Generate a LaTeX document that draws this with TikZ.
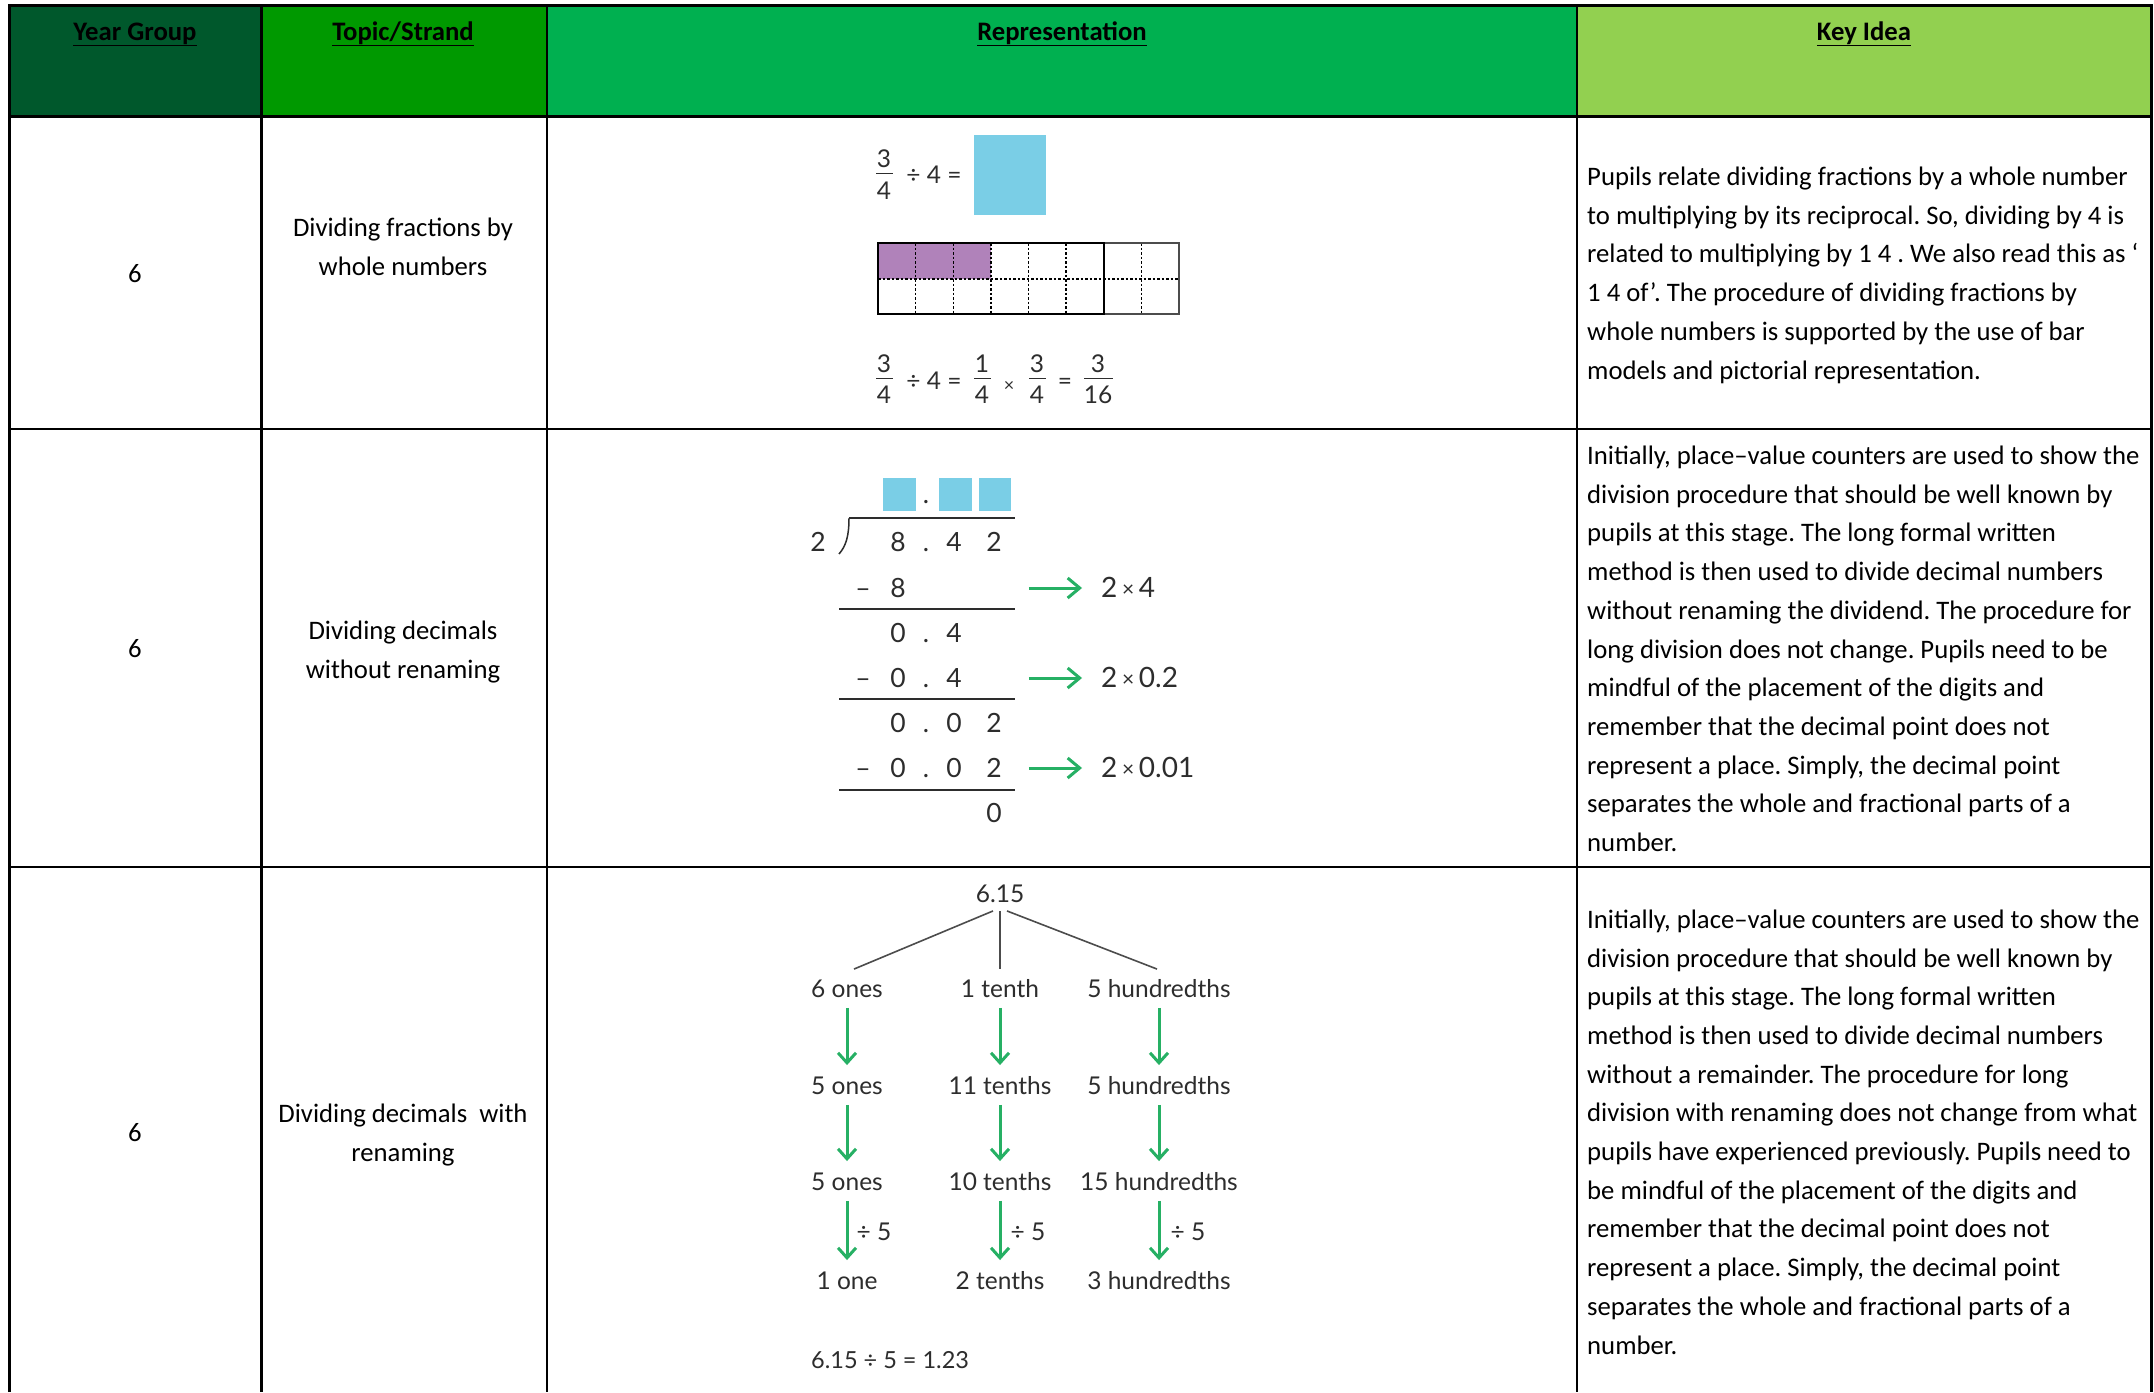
\documentclass[tikz,border=0pt]{standalone}
\usepackage{fontspec}
\setmainfont{Carlito}
\newfontfamily\repfont{Lato}
\usetikzlibrary{arrows.meta}
\definecolor{hdA}{RGB}{0,88,44}
\definecolor{hdB}{RGB}{0,153,0}
\definecolor{hdC}{RGB}{0,176,80}
\definecolor{hdD}{RGB}{146,208,80}
\definecolor{cblue}{RGB}{122,206,230}
\definecolor{cpurple}{RGB}{176,130,186}
\definecolor{cgreen}{RGB}{38,176,100}
\definecolor{cink}{RGB}{45,45,45}
\newcommand\bodyfnt{\fontsize{26.7}{38.7}\selectfont}
\newcommand\headfnt{\fontsize{26.7}{30}\selectfont\bfseries}
\frenchspacing
\begin{document}
\begin{tikzpicture}[x=1pt,y=-1pt,
  body/.style={font=\bodyfnt, inner sep=0pt, align=left, anchor=base west},
  topic/.style={font=\bodyfnt, inner sep=0pt, align=center, anchor=base},
  head/.style={font=\headfnt, inner sep=0pt, anchor=base},
  rp/.style={font=\repfont\fontsize{24.5}{24.5}\selectfont, text=cink, inner sep=0pt, text height=17.5pt, text depth=0pt, anchor=center},
  rpb/.style={font=\repfont\fontsize{26.5}{26.5}\selectfont, text=cink, inner sep=0pt, text height=19pt, text depth=0pt, anchor=center},
  ink/.style={draw=cink, line width=1.5pt},
  counter/.style={fill=cblue, inner sep=0pt},
  harrow/.style={draw=cgreen, line width=3pt, -{Straight Barb[length=12pt,width=20pt,line width=3pt]}},
  varrow/.style={draw=cgreen, line width=3pt, -{Straight Barb[length=10pt,width=18pt,line width=3pt]}},
  tree/.style={draw=cink!85, line width=1.6pt},
  dots/.style={draw=black, line width=1.4pt, dash pattern=on 2.5pt off 2pt}
]
\useasboundingbox (0,0) rectangle (2154,1392);
\fill[white] (0,0) rectangle (2154,1392);
% header fills
\fill[hdA] (9,5) rectangle (261,117);
\fill[hdB] (261,5) rectangle (547,117);
\fill[hdC] (547,5) rectangle (1577,117);
\fill[hdD] (1577,5) rectangle (2152,117);
% grid
\draw[line width=2.7pt] (9.5,1392) -- (9.5,5.5) -- (2151.5,5.5) -- (2151.5,1392);
\draw[line width=3.3pt] (9,116.5) -- (2152,116.5);
\draw[line width=2.4pt] (9,429) -- (2152,429);
\draw[line width=2.4pt] (9,867) -- (2152,867);
\draw[line width=2.6pt] (261.5,5) -- (261.5,1392);
\draw[line width=2.6pt] (547,5) -- (547,1392);
\draw[line width=2.6pt] (1577,5) -- (1577,1392);
% header texts
\node[head] (h1) at (135,40) {\underline{Year Group}};
\node[head] (h2) at (403,40) {\underline{Topic/Strand}};
\node[head] (h3) at (1062,40) {\underline{Representation}};
\node[head] (h4) at (1864,40) {\underline{Key Idea}};
% year column
\node[topic] (y1) at (135,282) {6};
\node[topic] (y2) at (135,657) {6};
\node[topic] (y3) at (135,1141) {6};
% topic column (base = last line)
\node[topic] (t1) at (403,275) {Dividing fractions by\\whole numbers};
\node[topic] (t2) at (403,678) {Dividing decimals\\without renaming};
\node[topic] (t3) at (403,1161) {Dividing decimals\ \ with\\renaming};
% key ideas (base = last line)
\node[body] (k1) at (1587,379) {Pupils relate dividing fractions by a whole number\\
to multiplying by its reciprocal. So, dividing by 4 is\\
related to multiplying by 1 4 . We also read this as ‘\\
1 4 of’. The procedure of dividing fractions by\\
whole numbers is supported by the use of bar\\
models and pictorial representation.};
\node[body] (k2) at (1587,851.5) {Initially, place–value counters are used to show the\\
division procedure that should be well known by\\
pupils at this stage. The long formal written\\
method is then used to divide decimal numbers\\
without renaming the dividend. The procedure for\\
long division does not change. Pupils need to be\\
mindful of the placement of the digits and\\
remember that the decimal point does not\\
represent a place. Simply, the decimal point\\
separates the whole and fractional parts of a\\
number.};
\node[body] (k3) at (1587,1354) {Initially, place–value counters are used to show the\\
division procedure that should be well known by\\
pupils at this stage. The long formal written\\
method is then used to divide decimal numbers\\
without a remainder. The procedure for long\\
division with renaming does not change from what\\
pupils have experienced previously. Pupils need to\\
be mindful of the placement of the digits and\\
remember that the decimal point does not\\
represent a place. Simply, the decimal point\\
separates the whole and fractional parts of a\\
number.};
% ===== Row 1 representation =====
\node[rp] (a1n) at (884,159) {3};
\draw[ink, line width=1.2pt] (876,173.5) -- (893,173.5);
\node[rp] (a1d) at (884,191) {4};
\node[rp] (a1e) at (934,175) {÷ 4 =};
\node[counter, minimum width=72pt, minimum height=80pt] (a1q) at (1010,175) {};
% bar model
\fill[cpurple] (878,243) rectangle (991,279);
\foreach \k in {1,2,3,4,5,7} {\draw[dots] ({878+37.625*\k},243) -- ({878+37.625*\k},314);}
\draw[dots] (878,279) -- (1179,279);
\draw[draw=black!70, line width=1.2pt] (1104,243) rectangle (1179,314);
\draw[line width=2.7pt] (878,243) rectangle (1104,314);
% bottom equation
\node[rp] (b1n) at (884,364) {3};
\draw[ink, line width=1.2pt] (876,378.5) -- (893,378.5);
\node[rp] (b1d) at (884,395) {4};
\node[rp] (b1e) at (934,381) {÷ 4 =};
\node[rp] (b2n) at (982,364) {1};
\draw[ink, line width=1.2pt] (974,378.5) -- (991,378.5);
\node[rp] (b2d) at (982,395) {4};
\node[rp, font=\repfont\fontsize{18}{18}\selectfont] (b2x) at (1009,383) {×};
\node[rp] (b3n) at (1037,364) {3};
\draw[ink, line width=1.2pt] (1029,378.5) -- (1046,378.5);
\node[rp] (b3d) at (1037,395) {4};
\node[rp] (b3e) at (1065,381) {=};
\node[rp] (b4n) at (1098,364) {3};
\draw[ink, line width=1.2pt] (1084,378.5) -- (1113,378.5);
\node[rp] (b4d) at (1098,395) {16};
% ===== Row 2 representation =====
\node[counter, minimum width=33pt, minimum height=33pt] (c1) at (899.5,494.5) {};
\node[counter, minimum width=33pt, minimum height=33pt] (c2) at (955.5,494.5) {};
\node[counter, minimum width=32pt, minimum height=33pt] (c3) at (995,494.5) {};
\node[rpb] (cdot) at (926,494) {.};
\draw[ink] (849,518) -- (1015,518);
\draw[ink] (849,518) .. controls (849,536) and (846,546) .. (839,554);
\node[rpb] (dv) at (818,542) {2};
% dividend
\node[rpb] (r1a) at (898,542) {8};
\node[rpb] (r1b) at (926,542) {.};
\node[rpb] (r1c) at (954,542) {4};
\node[rpb] (r1d) at (994,542) {2};
% - 8
\node[rpb] (r2m) at (863,588) {–};
\node[rpb] (r2a) at (898,588) {8};
\draw[ink] (839,609) -- (1015,609);
% 0.4
\node[rpb] (r3a) at (898,633) {0};
\node[rpb] (r3b) at (926,633) {.};
\node[rpb] (r3c) at (954,633) {4};
% - 0.4
\node[rpb] (r4m) at (863,678) {–};
\node[rpb] (r4a) at (898,678) {0};
\node[rpb] (r4b) at (926,678) {.};
\node[rpb] (r4c) at (954,678) {4};
\draw[ink] (839,699) -- (1015,699);
% 0.02
\node[rpb] (r5a) at (898,723) {0};
\node[rpb] (r5b) at (926,723) {.};
\node[rpb] (r5c) at (954,723) {0};
\node[rpb] (r5d) at (994,723) {2};
% - 0.02
\node[rpb] (r6m) at (863,768) {–};
\node[rpb] (r6a) at (898,768) {0};
\node[rpb] (r6b) at (926,768) {.};
\node[rpb] (r6c) at (954,768) {0};
\node[rpb] (r6d) at (994,768) {2};
\draw[ink] (839,790) -- (1015,790);
\node[rpb] (r7d) at (994,813) {0};
% labels and arrows
\newcommand\smx{{\fontsize{21}{21}\selectfont\raisebox{1.5pt}{×}}}
\node[rpb, font=\repfont\fontsize{28}{28}\selectfont, anchor=west] (l1) at (1101,588) {2\,\smx\,4};
\node[rpb, font=\repfont\fontsize{28}{28}\selectfont, anchor=west] (l2) at (1101,678) {2\,\smx\,0.2};
\node[rpb, font=\repfont\fontsize{28}{28}\selectfont, anchor=west] (l3) at (1101,768) {2\,\smx\,0.01};
\draw[harrow] ([xshift=27pt]r1d.east |- l1.west) -- ([xshift=-19pt]l1.west);
\draw[harrow] ([xshift=27pt]r1d.east |- l2.west) -- ([xshift=-19pt]l2.west);
\draw[harrow] ([xshift=27pt]r1d.east |- l3.west) -- ([xshift=-19pt]l3.west);
% ===== Row 3 representation =====
\node[rp] (top) at (1000,894) {6.15};
\node[rp] (p1) at (847,989) {6 ones};
\node[rp] (p2) at (1000,989) {1 tenth};
\node[rp] (p3) at (1159,989) {5 hundredths};
\node[rp] (q1) at (847,1086) {5 ones};
\node[rp] (q2) at (1000,1086) {11 tenths};
\node[rp] (q3) at (1159,1086) {5 hundredths};
\node[rp] (s1) at (847,1182) {5 ones};
\node[rp] (s2) at (1000,1182) {10 tenths};
\node[rp] (s3) at (1159,1182) {15 hundredths};
\node[rp] (u1) at (847,1281) {1 one};
\node[rp] (u2) at (1000,1281) {2 tenths};
\node[rp] (u3) at (1159,1281) {3 hundredths};
\draw[tree] ([shift={(-7,8)}]top.south) -- ([shift={(7,-11)}]p1.north);
\draw[tree] ([shift={(0,8)}]top.south) -- ([shift={(0,-11)}]p2.north);
\draw[tree] ([shift={(7,8)}]top.south) -- ([shift={(-2,-11)}]p3.north);
\foreach \a/\b in {p1/q1,p2/q2,p3/q3,q1/s1,q2/s2,q3/s3,s1/u1,s2/u2,s3/u3}
  {\draw[varrow] ([yshift=-10pt]\a.south) -- ([yshift=12pt]\b.north);}
\node[rp] (d1) at (874,1232) {÷ 5};
\node[rp] (d2) at (1028,1232) {÷ 5};
\node[rp] (d3) at (1188,1232) {÷ 5};
\node[rp, font=\repfont\fontsize{23.5}{23.5}\selectfont, anchor=west] (fin) at (811,1360) {6.15 ÷ 5 = 1.23};
\end{tikzpicture}
\end{document}
